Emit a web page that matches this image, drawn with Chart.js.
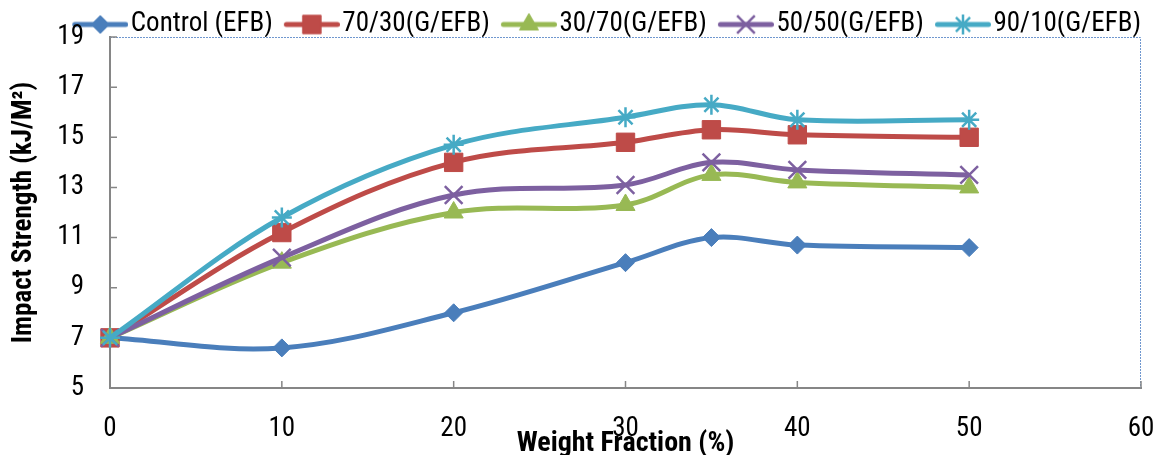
<!DOCTYPE html>
<html>
<head>
<meta charset="utf-8">
<script src="https://cdn.jsdelivr.net/npm/chart.js@4.4.0/dist/chart.umd.min.js"></script>
<style>
  html, body { margin: 0; padding: 0; background: #fff; }
</style>
</head>
<body>
<canvas id="graficoImpacto" width="1157" height="455"></canvas>
<script>
// valores
const weightFraction = [0, 10, 20, 30, 35, 40, 50];
const control = [7, 6.6, 8.0, 10.0, 11.0, 10.7, 10.6];
const g70efb30 = [7, 11.2, 14.0, 14.8, 15.3, 15.1, 15.0];
const g30efb70 = [7, 10.0, 12.0, 12.3, 13.5, 13.2, 13.0];
const g50efb50 = [7, 10.2, 12.7, 13.1, 14.0, 13.7, 13.5];
const g90efb10 = [7, 11.8, 14.7, 15.8, 16.3, 15.7, 15.7];
const seriesNames = ['Control (EFB)', '70/30(G/EFB)', '30/70(G/EFB)', '50/50(G/EFB)', '90/10(G/EFB)'];
const xTicks = [0, 10, 20, 30, 40, 50, 60];
const yTicks = [5, 7, 9, 11, 13, 15, 17, 19];

Chart.defaults.font.family = "Roboto, 'DejaVu Sans Condensed', sans-serif";
Chart.defaults.color = '#000';
const textFont = { size: 27, weight: 'normal condensed' };

function legendIcon(color, style, radius, bw) {
    const c = document.createElement('canvas');
    c.width = 78;
    c.height = 26;
    const g = c.getContext('2d');
    g.strokeStyle = color;
    g.fillStyle = color;
    g.lineWidth = 5;
    g.lineCap = 'round';
    g.beginPath();
    g.moveTo(24.5, 13);
    g.lineTo(75.5, 13);
    g.stroke();
    g.lineWidth = bw;
    g.lineCap = 'butt';
    Chart.helpers.drawPoint(g, {pointStyle: style, radius: radius, rotation: 0, borderWidth: bw}, 50, 13);
    return c;
}

function series(label, values, color, style, radius, bw, order) {
    return {
        label: label,
        data: weightFraction.map((x, i) => ({x: x, y: values[i]})),
        borderColor: color,
        backgroundColor: color,
        borderWidth: 5,
        tension: 0.35,
        fill: false,
        clip: false,
        pointStyle: style,
        pointRadius: radius,
        pointHoverRadius: radius,
        pointBorderWidth: bw,
        pointBackgroundColor: color,
        pointBorderColor: color,
        order: order,
        icon: legendIcon(color, style, radius, bw)
    };
}

const datasets = [
    series(seriesNames[0], control, '#4a7ebb', 'rectRot', 9, 1, 4),
    series(seriesNames[1], g70efb30, '#be4b48', 'rect', 13, 1, 3),
    series(seriesNames[2], g30efb70, '#98b954', 'triangle', 11, 1, 2),
    series(seriesNames[3], g50efb50, '#7d60a0', 'crossRot', 12.5, 2.5, 1),
    series(seriesNames[4], g90efb10, '#46aac5', 'star', 10, 2.5, 0)
];

// moldura pontilhada + marcas de escala para dentro
const framePlugin = {
    id: 'frame',
    beforeDatasetsDraw(chart) {
        const {ctx, chartArea: a, scales: {x, y}} = chart;
        ctx.save();
        ctx.strokeStyle = '#6f97cf';
        ctx.lineWidth = 1;
        ctx.setLineDash([2, 1]);
        ctx.beginPath();
        ctx.moveTo(a.left, a.top + 0.5);
        ctx.lineTo(a.right - 0.5, a.top + 0.5);
        ctx.lineTo(a.right - 0.5, a.bottom);
        ctx.stroke();
        ctx.setLineDash([]);
        ctx.strokeStyle = '#868686';
        ctx.lineWidth = 1.5;
        ctx.beginPath();
        y.ticks.forEach(t => {
            const py = y.getPixelForValue(t.value);
            ctx.moveTo(a.left, py);
            ctx.lineTo(a.left + 7, py);
        });
        x.ticks.forEach(t => {
            const px = x.getPixelForValue(t.value);
            ctx.moveTo(px, a.bottom);
            ctx.lineTo(px, a.bottom - 7);
        });
        ctx.stroke();
        ctx.restore();
    }
};

const ctx = document.getElementById('graficoImpacto');

new Chart(ctx, {
    type: 'line',
    data: { datasets: datasets },
    options: {
        responsive: false,
        animation: false,
        events: [],
        devicePixelRatio: 1,
        layout: { padding: { top: 11, right: 16, bottom: 0, left: 0 } },
        plugins: {
            tooltip: { enabled: false },
            legend: {
                display: true,
                position: 'top',
                align: 'end',
                maxHeight: 26,
                labels: {
                    usePointStyle: true,
                    pointStyleWidth: 56,
                    padding: 0,
                    color: '#000',
                    font: textFont,
                    sort: (a, b) => a.datasetIndex - b.datasetIndex,
                    generateLabels: chart => Chart.defaults.plugins.legend.labels.generateLabels(chart)
                        .map(item => Object.assign(item, { pointStyle: chart.data.datasets[item.datasetIndex].icon }))
                }
            }
        },
        scales: {
            x: {
                type: 'linear',
                min: xTicks[0],
                max: xTicks[xTicks.length - 1],
                afterFit: s => { s.height = 67; s.paddingLeft = 0; s.paddingRight = 0; },
                ticks: { stepSize: xTicks[1] - xTicks[0], font: textFont, padding: 25, color: '#000' },
                grid: { display: false, drawTicks: false },
                border: { color: '#868686', width: 2 },
                title: {
                    display: true,
                    text: 'Weight Fraction (%)',
                    color: '#000',
                    font: { size: 28, weight: 'bold condensed', lineHeight: 1 },
                    padding: { top: 0, bottom: -3 }
                }
            },
            y: {
                min: yTicks[0],
                max: yTicks[yTicks.length - 1],
                afterFit: s => { s.width = 110; s.paddingTop = 0; s.paddingBottom = 0; },
                ticks: { stepSize: yTicks[1] - yTicks[0], font: textFont, padding: 26, color: '#000' },
                grid: { display: false, drawTicks: false },
                border: { color: '#868686', width: 2 },
                title: {
                    display: true,
                    text: 'Impact Strength (kJ/M²)',
                    color: '#000',
                    font: { size: 27, weight: 'bold condensed', lineHeight: 1 },
                    padding: { top: 10.5, bottom: 0 }
                }
            }
        }
    },
    plugins: [framePlugin]
});
</script>
</body>
</html>
